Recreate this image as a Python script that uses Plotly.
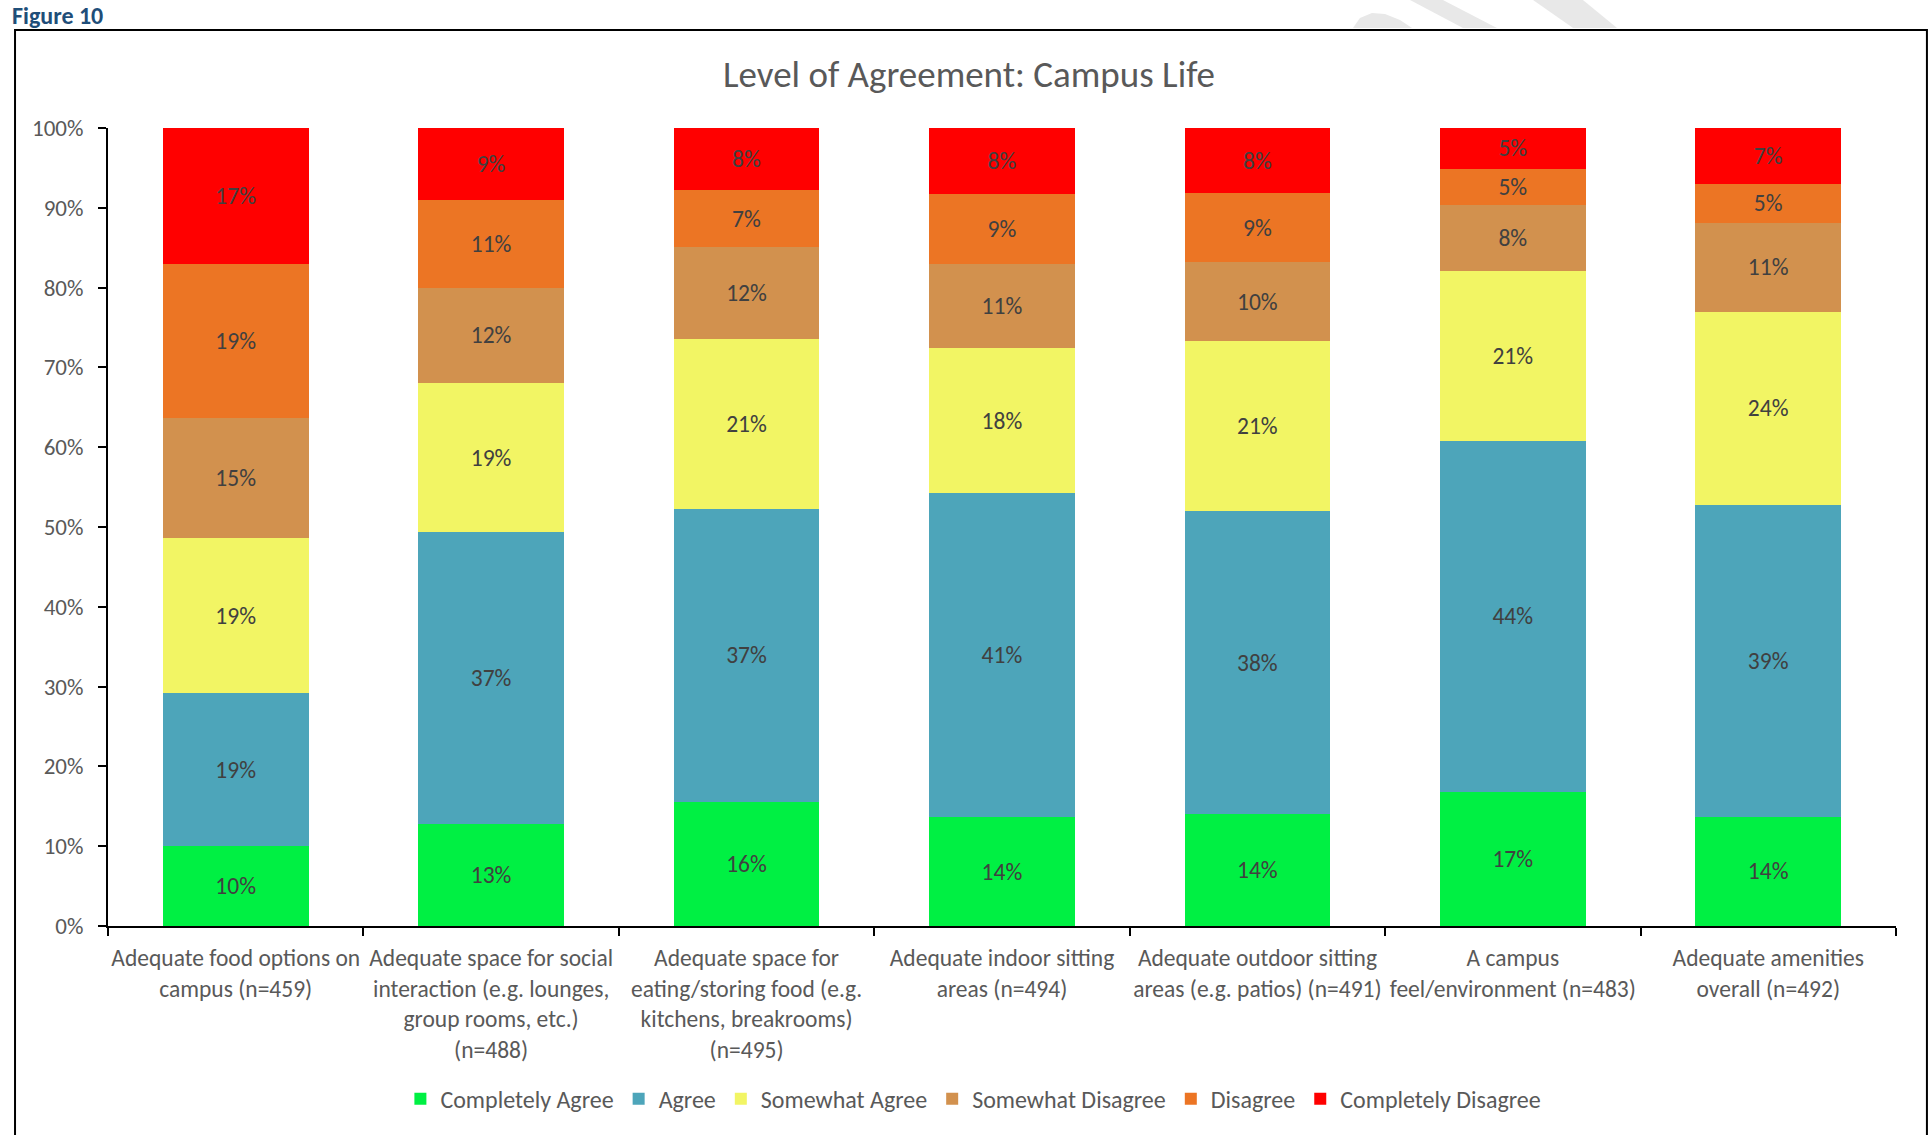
import plotly.graph_objects as go

categories = [
    "Adequate food options on<br>campus (n=459)",
    "Adequate space for social<br>interaction (e.g. lounges,<br>group rooms, etc.)<br>(n=488)",
    "Adequate space for<br>eating/storing food (e.g.<br>kitchens, breakrooms)<br>(n=495)",
    "Adequate indoor sitting<br>areas (n=494)",
    "Adequate outdoor sitting<br>areas (e.g. patios) (n=491)",
    "A campus<br>feel/environment (n=483)",
    "Adequate amenities<br>overall (n=492)",
]

completely_agree = [10.0, 12.8, 15.6, 13.6, 14.0, 16.8, 13.7]
agree = [19.2, 36.6, 36.7, 40.6, 38.0, 44.0, 39.1]
somewhat_agree = [19.4, 18.6, 21.2, 18.2, 21.3, 21.3, 24.2]
somewhat_disagree = [15.0, 12.0, 11.6, 10.6, 9.9, 8.2, 11.1]
disagree = [19.3, 11.0, 7.1, 8.7, 8.6, 4.6, 4.9]
completely_disagree = [17.1, 9.0, 7.8, 8.3, 8.2, 5.1, 7.0]

series_names = ["Completely Agree", "Agree", "Somewhat Agree",
                "Somewhat Disagree", "Disagree", "Completely Disagree"]
series_values = [completely_agree, agree, somewhat_agree,
                 somewhat_disagree, disagree, completely_disagree]
series_colors = ["#00F043", "#4DA5BA", "#F2F564", "#D2914E", "#EC7524", "#FF0000"]

y_ticks = [0, 10, 20, 30, 40, 50, 60, 70, 80, 90, 100]
y_tick_labels = [f"{v}%" for v in y_ticks]

FONT = "Carlito, Calibri, Lato, sans-serif"

fig = go.Figure()
for name, vals, col in zip(series_names, series_values, series_colors):
    fig.add_trace(go.Bar(
        x=categories, y=vals, name=name,
        marker=dict(color=col, line=dict(width=0)),
        texttemplate="%{y:.0f}%", textposition="inside",
        insidetextanchor="middle",
        textfont=dict(family=FONT, size=23.5, color="#404040"),
        hoverinfo="skip",
    ))

watermark = "#E8E8E8"
fig.update_layout(
    width=1931, height=1135,
    barmode="stack", bargap=0.43,
    plot_bgcolor="white", paper_bgcolor="white",
    margin=dict(l=108, r=35, t=128, b=209, autoexpand=False),
    font=dict(family=FONT, size=24, color="#595959"),
    title=dict(text="Level of Agreement: Campus Life",
               x=0.5018, y=1 - 74 / 1135, xanchor="center", yanchor="middle",
               font=dict(family=FONT, size=37, color="#595959")),
    uniformtext=dict(minsize=8, mode="show"),
    legend=dict(orientation="h", x=0.484, y=-0.217, xanchor="center", yanchor="middle",
                font=dict(family=FONT, size=24, color="#595959"),
                itemclick=False, traceorder="normal"),
    xaxis=dict(showline=True, linecolor="#000000", linewidth=2,
               ticks="outside", tickson="boundaries", ticklen=8, tickwidth=2,
               tickcolor="#000000", tickangle=0, showgrid=False,
               ticklabelstandoff=10,
               tickfont=dict(family=FONT, size=23.5, color="#595959")),
    yaxis=dict(range=[0, 100], tickvals=y_ticks, ticktext=y_tick_labels,
               showline=True, linecolor="#000000", linewidth=2,
               ticks="outside", ticklen=8, tickwidth=2, tickcolor="#000000",
               showgrid=False, zeroline=False, ticklabelstandoff=10,
               tickfont=dict(family=FONT, size=23, color="#595959")),
    shapes=[
        dict(type="path", xref="paper", yref="paper", layer="below",
             path="M 0.6963,1.1253 L 0.7002,1.1378 L 0.7069,1.1441 L 0.7142,1.1429 "
                  "L 0.7226,1.1353 L 0.7293,1.1253 Z",
             fillcolor=watermark, line=dict(width=0)),
        dict(type="path", xref="paper", yref="paper", layer="below",
             path="M 0.7282,1.1604 L 0.7466,1.1604 L 0.7768,1.1253 L 0.7578,1.1253 Z",
             fillcolor=watermark, line=dict(width=0)),
        dict(type="path", xref="paper", yref="paper", layer="below",
             path="M 0.7970,1.1604 L 0.8249,1.1604 L 0.8440,1.1253 L 0.8194,1.1253 Z",
             fillcolor=watermark, line=dict(width=0)),
        dict(type="path", xref="paper", yref="paper",
             path="M -0.052,-0.3 L -0.052,1.1228 L 1.0173,1.1228 L 1.0173,-0.3",
             line=dict(color="#000000", width=2)),
    ],
    annotations=[dict(text="<b>Figure 10</b>", xref="paper", yref="paper",
                      x=-0.0548, y=1.1416, xanchor="left", yanchor="middle",
                      showarrow=False,
                      font=dict(family=FONT, size=24, color="#1F4E79"))],
)

fig.write_html("out.html", config={"displayModeBar": False},
               post_script="document.body.style.margin='0';")
